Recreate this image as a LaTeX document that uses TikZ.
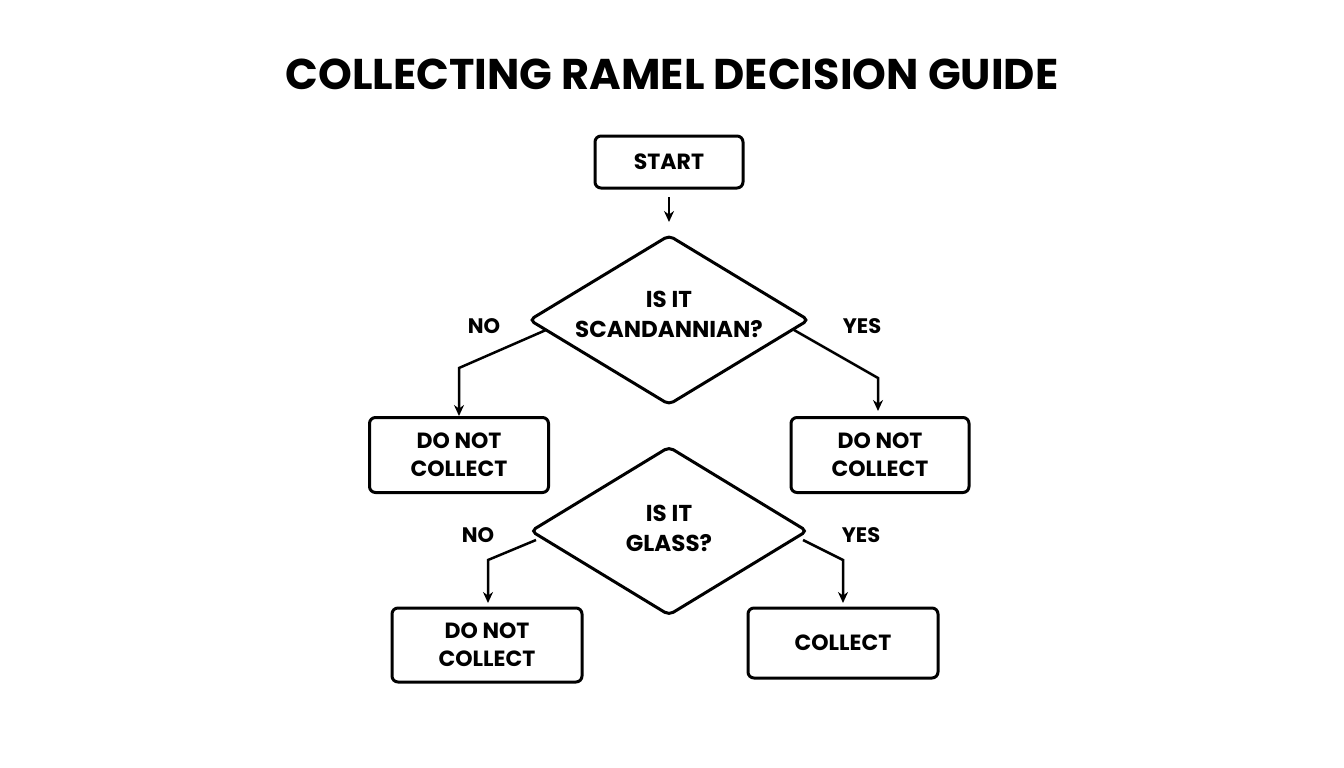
\documentclass[tikz,border=0pt]{standalone}
\usepackage{fontspec}
\setmainfont{Poppins}
\usetikzlibrary{shapes.geometric,arrows.meta}
\begin{document}
\begin{tikzpicture}[x=1pt,y=-1pt,
  box/.style={draw,line width=3pt,rounded corners=6pt,align=center,font=\fontsize{22}{28}\selectfont\bfseries,inner sep=0pt},
  dia/.style={draw,line width=3pt,diamond,rounded corners=5pt,inner sep=0pt},
  lab/.style={font=\fontsize{21}{24}\selectfont\bfseries},
  con/.style={line width=2.5pt,-{Stealth[length=11pt,width=10pt]}}]
\useasboundingbox (0,0) rectangle (1344,768);
\node[font=\fontsize{43}{48}\selectfont\bfseries] (title) at (672,74) {COLLECTING RAMEL DECISION GUIDE};
\node[box,minimum width=148pt,minimum height=52pt] (start) at (669,162) {START};
\node[dia,minimum width=280pt,minimum height=170pt,aspect=1.65] (d1) at (669,320) {};
\node[font=\fontsize{23}{30}\selectfont\bfseries,align=center] (t1) at (669,314) {IS IT\\SCANDANNIAN?};
\draw[con] (669,197) coordinate (s1) -- (669,222) coordinate (e1);
\node[box,minimum width=179pt,minimum height=75pt] (n1) at (459,455) {DO NOT\\COLLECT};
\node[box,minimum width=178pt,minimum height=75pt] (n2) at (880,455) {DO NOT\\COLLECT};
\node[lab] (no1) at (484,326) {NO};
\node[lab] (yes1) at (862,326) {YES};
\draw[con] (546,330) -- (459,368) -- (n1.north);
\draw[con] (794,330) -- (878,378) -- (878,411);
\node[dia,minimum width=277pt,minimum height=169pt,aspect=1.64] (d2) at (669,531) {};
\node[font=\fontsize{23}{30}\selectfont\bfseries,align=center] (t2) at (669,528) {IS IT\\GLASS?};
\node[lab] (no2) at (478,535) {NO};
\node[lab] (yes2) at (861,535) {YES};
\node[box,minimum width=190pt,minimum height=74pt] (n3) at (487,645) {DO NOT\\COLLECT};
\node[box,minimum width=190pt,minimum height=70pt] (n4) at (843,643) {COLLECT};
\draw[con] (536,540) -- (488,560) -- (488,603);
\draw[con] (803,540) -- (843,560) -- (843,603);
\end{tikzpicture}
\end{document}
